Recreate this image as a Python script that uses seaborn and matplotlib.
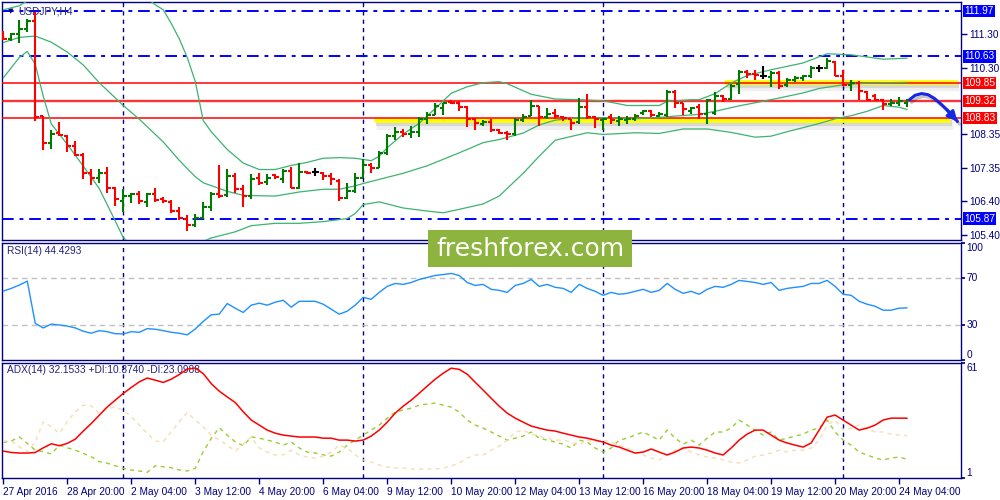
import numpy as np
import pandas as pd
import seaborn as sns
import matplotlib
matplotlib.use("Agg")
import matplotlib.pyplot as plt
import matplotlib.patheffects as pe
from matplotlib.patches import Rectangle
from matplotlib.transforms import blended_transform_factory

sns.set_theme(style="white")
plt.rcParams['font.family'] = ['Liberation Sans', 'DejaVu Sans']

# ---------------- data (USDJPY H4, 27 Apr 2016 12:00 .. 24 May 2016 08:00) -------------
opens = [111.32,111.14,111.29,111.43,111.66,108.88,108.09,108.37,108.29,108.00,
         107.75,107.22,107.05,107.22,106.78,106.39,106.53,106.58,106.37,106.58,
         106.45,106.37,106.09,105.87,105.67,105.90,106.22,106.60,106.56,107.12,
         106.73,106.53,107.07,106.94,107.14,107.02,107.26,106.78,107.24,107.24,
         107.22,107.12,106.97,106.48,106.68,107.07,107.43,107.36,107.80,108.29,
         108.41,108.34,108.41,108.78,108.92,109.12,109.28,109.25,109.15,108.80,
         108.66,108.70,108.48,108.39,108.34,108.76,108.89,109.17,108.86,108.97,
         108.86,108.78,108.70,109.15,108.86,108.76,108.86,108.73,108.76,108.80,
         108.97,109.02,108.89,108.92,109.58,109.25,109.02,109.15,108.95,108.97,
         109.46,109.38,109.83,110.16,110.12,110.07,110.03,110.14,109.80,109.93,
         110.00,110.05,110.29,110.29,110.46,110.07,109.80,109.85,109.58,109.46,
         109.34,109.22,109.25,109.27]
highs = [111.37,111.32,111.71,111.73,111.95,108.89,108.46,108.70,108.31,108.14,
         107.80,107.33,107.33,107.39,106.81,106.75,106.63,106.68,106.63,106.78,
         106.51,106.42,106.22,105.97,106.00,106.36,106.65,107.43,107.33,107.20,
         106.85,107.17,107.20,107.17,107.18,107.33,107.39,107.49,107.27,107.36,
         107.24,107.22,107.02,106.92,107.20,107.63,107.51,107.85,108.34,108.56,
         108.49,108.58,108.86,108.99,109.25,109.27,109.34,109.32,109.19,108.83,
         108.76,108.78,108.50,108.44,108.83,108.95,109.34,109.19,109.12,109.09,
         108.89,108.80,109.41,109.54,108.89,108.83,108.95,108.88,108.89,108.95,
         109.07,109.07,108.99,109.64,109.64,109.27,109.15,109.22,109.38,109.58,
         109.51,109.83,110.24,110.22,110.22,110.36,110.19,110.19,110.00,110.05,
         110.10,110.34,110.39,110.58,110.49,110.22,109.93,109.90,109.61,109.54,
         109.38,109.38,109.44,109.38]
lows = [111.10,111.07,111.04,111.34,108.73,107.88,107.90,108.29,107.82,107.70,
        107.02,106.87,106.92,106.61,106.24,106.06,106.32,106.29,106.22,106.36,
        106.32,106.03,105.83,105.51,105.63,105.85,106.09,106.48,106.51,106.61,
        106.22,106.45,106.85,106.87,107.02,106.90,106.78,106.75,107.17,107.12,
        107.00,106.85,106.39,106.43,106.61,107.07,107.20,107.36,107.75,108.19,
        108.27,108.24,108.27,108.66,108.92,108.92,109.22,109.02,108.56,108.47,
        108.58,108.41,108.34,108.17,108.29,108.70,108.89,108.58,108.80,108.78,
        108.73,108.47,108.66,108.80,108.53,108.47,108.66,108.60,108.66,108.73,
        108.92,108.86,108.86,108.86,109.12,108.92,108.95,108.78,108.66,108.92,
        109.29,109.34,109.54,110.00,109.93,109.97,109.73,109.68,109.73,109.87,
        109.90,110.00,110.16,110.26,110.05,109.77,109.61,109.36,109.31,109.31,
        109.05,109.17,109.19,109.15]
closes = [111.14,111.29,111.43,111.68,108.86,108.09,108.34,108.31,108.00,107.75,
          107.22,107.07,107.22,106.78,106.45,106.53,106.58,106.39,106.58,106.41,
          106.39,106.09,105.90,105.67,105.90,106.22,106.58,106.53,107.12,106.73,
          106.53,107.02,106.92,107.07,107.10,107.26,106.78,107.24,107.22,107.24,
          107.12,107.02,106.48,106.68,107.07,107.43,107.36,107.80,108.29,108.41,
          108.34,108.41,108.80,108.92,109.19,109.25,109.25,109.15,108.80,108.68,
          108.70,108.47,108.39,108.34,108.76,108.86,109.19,108.86,108.95,108.88,
          108.83,108.68,109.15,108.86,108.80,108.80,108.76,108.80,108.80,108.89,
          109.02,108.92,108.95,109.58,109.25,109.09,109.12,108.95,109.34,109.48,
          109.38,109.77,110.16,110.12,110.10,110.07,110.14,109.77,109.93,110.00,
          110.05,110.29,110.29,110.49,110.07,109.80,109.85,109.61,109.34,109.34,
          109.22,109.25,109.31,109.34]

# Bollinger bands (read at sample bars)
upper_idx = [0,2,4,8,12,16,19,20,21,22,23,24,25,26,28,30,32,34,36,38,40,42,44,46,47,48,
             50,52,54,56,58,60,62,63,66,69,72,75,78,82,83,86,87,89,91,93,96,100,103,106,110,113]
upper_val = [112.00,112.12,112.40,113.00,113.10,112.70,112.15,112.00,111.60,111.15,110.60,109.90,
             108.75,108.42,107.90,107.50,107.31,107.31,107.43,107.52,107.64,107.66,107.64,107.57,
             107.70,107.95,108.35,108.67,109.10,109.55,109.74,109.86,109.89,109.83,109.52,109.38,
             109.36,109.33,109.19,109.19,109.31,109.36,109.36,109.54,109.85,110.07,110.24,110.44,
             110.71,110.68,110.55,110.58]
middle_idx = [0,2,4,6,8,10,12,15,17,20,22,24,25,28,30,34,37,40,42,44,45,48,50,53,55,57,60,62,65,67,
              69,72,76,79,82,84,87,89,92,94,97,100,102,105,108,113]
middle_val = [111.04,111.19,111.23,111.05,110.76,110.38,109.86,109.19,108.79,108.12,
              107.58,107.10,106.92,106.67,106.55,106.53,106.65,106.73,106.73,106.83,
              106.90,107.08,107.20,107.42,107.61,107.80,108.10,108.19,108.38,108.62,
              108.76,108.83,108.83,108.80,108.84,108.88,108.93,109.02,109.18,109.27,
              109.41,109.56,109.69,109.80,109.85,109.87]
lower_idx = [0,2,3,4,5,6,8,10,12,14,15,17,20,23,26,29,31,34,37,40,43,44,45,47,50,53,55,57,60,62,
             65,67,69,73,75,79,82,85,88,91,94,96,98,102,104,106,108,110,112,113]
lower_val = [110.00,110.60,110.78,110.40,109.46,108.65,108.05,107.41,106.75,105.80,
             105.31,104.90,104.80,105.00,105.30,105.48,105.66,105.73,105.73,105.78,
             105.87,106.02,106.28,106.36,106.18,106.09,106.04,106.14,106.30,106.53,
             107.20,107.70,108.17,108.39,108.34,108.39,108.37,108.50,108.50,108.40,
             108.26,108.29,108.42,108.66,108.80,108.89,109.02,109.19,109.14,109.07]

rsi = [58.7,61.0,63.8,67.2,31.2,27.3,30.6,29.8,28.9,27.3,
       24.5,22.8,25.0,24.1,22.4,22.2,24.1,23.6,26.7,26.2,
       25.0,23.6,22.8,21.4,26.4,32.9,38.5,39.1,48.1,44.1,
       40.5,46.7,48.4,46.7,49.2,50.9,45.0,50.0,50.0,50.0,
       47.5,43.3,39.0,41.6,46.7,53.4,51.7,57.6,62.7,65.2,
       64.4,66.0,68.6,70.3,72.0,72.8,73.7,72.0,66.0,63.5,
       64.4,60.2,59.3,57.6,63.5,65.2,68.6,62.7,64.4,61.9,
       61.0,57.6,64.4,61.0,58.5,55.1,57.6,56.0,56.8,58.5,
       60.2,57.6,59.3,65.2,60.2,56.8,58.5,56.0,60.2,62.7,
       61.9,64.4,67.8,66.9,66.0,64.4,66.0,59.3,61.0,61.9,
       62.7,65.2,65.2,67.8,62.7,56.0,55.1,50.0,47.5,45.8,
       42.4,42.4,44.1,44.43]
adx = [15.1,14.4,14.1,14.1,14.4,16.8,18.9,17.9,19.1,21.3,
       25.5,29.4,33.7,38.0,41.5,45.0,48.1,51.0,53.0,51.9,
       50.7,52.4,54.8,57.6,58.2,55.3,50.1,46.2,43.2,40.3,
       35.5,31.2,28.6,26.0,24.4,23.4,22.9,22.4,22.4,22.4,
       21.8,21.8,20.8,20.8,20.3,20.8,22.9,26.0,30.1,34.8,
       38.4,41.5,45.1,48.8,52.4,55.5,58.1,57.5,55.0,50.8,
       46.7,42.5,38.4,34.8,32.2,30.1,28.1,27.0,26.0,25.5,
       24.4,23.4,22.4,21.8,20.8,19.8,18.2,17.2,15.6,14.1,
       14.6,16.2,14.6,13.1,14.6,16.7,17.2,16.7,15.6,14.1,
       13.1,16.7,20.8,23.9,26.0,26.0,23.4,20.8,19.3,18.2,
       17.2,19.3,26.0,32.7,33.8,31.2,28.6,26.0,27.0,28.6,
       31.2,32.2,32.2,32.15]
plus_di = [19.6,20.3,22.5,19.1,15.6,14.8,13.6,18.2,16.8,15.6,
           13.9,12.2,9.6,8.8,7.5,6.2,5.3,4.8,4.1,7.5,
           7.0,6.5,5.3,4.8,6.2,14.8,21.7,27.2,23.4,19.9,
           17.9,22.5,21.8,20.8,19.8,18.2,19.8,16.7,14.6,14.1,
           13.1,12.5,14.6,18.2,20.8,23.4,26.0,28.6,32.2,35.3,
           36.4,37.4,38.9,39.5,40.0,38.9,37.9,35.3,31.2,28.6,
           27.0,25.0,22.9,20.8,21.8,22.9,25.0,21.8,20.8,19.8,
           18.7,16.7,20.8,19.8,16.7,14.6,16.7,20.8,21.8,23.4,
           25.0,22.9,20.8,26.0,21.8,18.7,20.8,18.2,21.8,25.0,
           25.0,27.0,31.2,28.6,26.0,23.4,25.0,20.8,21.8,22.9,
           23.9,26.0,27.0,31.2,25.0,20.8,18.2,14.6,13.1,11.5,
           10.5,11.5,12.0,10.87]
minus_di = [20.3,20.3,17.3,14.8,19.9,30.3,27.7,24.3,30.3,35.5,
            38.9,38.6,34.6,37.2,38.0,36.3,32.9,28.6,24.3,20.3,
            19.9,25.1,30.3,35.1,31.2,27.7,23.4,20.8,18.2,15.1,
            18.6,22.5,16.7,14.6,13.1,13.1,15.6,13.1,12.0,11.5,
            12.5,14.6,18.2,16.7,13.1,10.5,9.4,7.9,6.8,6.3,
            6.3,5.8,5.8,5.8,5.8,6.3,7.4,8.9,11.5,13.1,
            13.1,15.6,17.7,20.8,25.0,26.0,23.9,22.9,21.8,20.8,
            20.8,19.8,18.2,20.8,19.8,20.8,19.8,18.2,16.7,14.6,
            13.1,11.5,10.5,13.1,15.6,16.7,14.6,13.1,12.0,11.5,
            10.5,9.4,8.9,10.5,12.5,13.1,14.1,15.6,14.6,15.6,
            15.6,16.7,20.8,28.6,31.2,26.0,27.0,28.6,27.0,25.0,
            25.0,23.9,23.4,23.10]

# chart objects
blue_levels = [111.97, 110.63, 105.87]
red_levels = [109.85, 109.32, 108.83]
yaxis_ticks = [111.30, 110.30, 108.35, 107.35, 106.40, 105.40]
zone_levels = [108.76, 109.88]
zone_start = [46.3, 90.1]
zone_end = [118.4, 119.2]
forecast_x = [113.3, 114.0, 114.8, 115.6, 116.4, 117.2, 118.0, 118.8, 119.3]
forecast_y = [109.36, 109.49, 109.54, 109.51, 109.40, 109.24, 109.06, 108.86, 108.72]
week_starts = [15, 45, 75, 105]
xlabel_idx = [0, 8, 16, 24, 32, 40, 48, 56, 64, 72, 80, 88, 96, 104, 112]
xlabel_txt = ["27 Apr 2016", "28 Apr 20:00", "2 May 04:00", "3 May 12:00", "4 May 20:00",
              "6 May 04:00", "9 May 12:00", "10 May 20:00", "12 May 04:00", "13 May 12:00",
              "16 May 20:00", "18 May 04:00", "19 May 12:00", "20 May 20:00", "24 May 04:00"]

# ---------------- figure ----------------
NAVY = "#000080"
FS = 7.3
fig = plt.figure(figsize=(10, 5), dpi=100)
fig.patch.set_facecolor("white")
W = 0.9587
ax = fig.add_axes([0.002, 1 - 240 / 500, W, 238 / 500])
ax2 = fig.add_axes([0.002, 1 - 360 / 500, W, 117.4 / 500], sharex=ax)
ax3 = fig.add_axes([0.002, 1 - 478.3 / 500, W, 115.7 / 500], sharex=ax)

n = len(closes)
idx = np.arange(n)
df = pd.DataFrame({"i": idx, "o": opens, "h": highs, "l": lows, "c": closes,
                   "rsi": rsi, "adx": adx, "pdi": plus_di, "mdi": minus_di})
cols = np.where(np.isclose(df.c, df.o), "black", np.where(df.c > df.o, "#007a00", "#ff0000"))

for a in (ax, ax2, ax3):
    a.set_facecolor("white")
    for s in a.spines.values():
        s.set_color(NAVY)
        s.set_linewidth(1.0)
    for w in week_starts:
        a.axvline(w, color=NAVY, lw=1.0, ls=(0, (3, 3)), zorder=1)
    a.grid(False)
ax.set_xlim(-0.16, 119.7)

# price panel
ax.set_ylim(105.24, 112.23)
for lv in blue_levels:
    ax.axhline(lv, color="#0000ff", lw=1.4, ls=(0, (6, 3, 2, 3)), zorder=2)
ax.axhline(109.32, color="#ffd4d4", lw=2.6, zorder=2)
for lv in red_levels:
    ax.axhline(lv, color="#ff0000", lw=1.1, zorder=3)

shadow = [pe.SimpleLineShadow(offset=(2, -2.5), shadow_color="black", alpha=0.06, linewidth=8),
          pe.SimpleLineShadow(offset=(1.5, -2), shadow_color="black", alpha=0.10, linewidth=4.5),
          pe.Normal()]
for lv, x0, x1 in zip(zone_levels, zone_start, zone_end):
    ax.hlines(lv, x0, x1, color="#ffff00", lw=3.4, zorder=2.5, path_effects=shadow)

for vals, ix in ((upper_val, upper_idx), (middle_val, middle_idx), (lower_val, lower_idx)):
    sns.lineplot(x=ix, y=vals, ax=ax, color="#3cb371", lw=0.9, zorder=4)

ax.vlines(df.i, df.l, df.h, colors=cols, lw=1.5, zorder=5)
ax.hlines(df.o, df.i - 0.45, df.i, colors=cols, lw=1.5, zorder=5)
ax.hlines(df.c, df.i, df.i + 0.45, colors=cols, lw=1.5, zorder=5)

sns.lineplot(x=forecast_x, y=forecast_y, ax=ax, color="#1428e6", lw=2.2, zorder=6, sort=False,
             path_effects=[pe.SimpleLineShadow(offset=(1.5, -2), alpha=0.25), pe.Normal()])
ax.annotate("", xy=(forecast_x[-1], forecast_y[-1]), xytext=(forecast_x[-3], forecast_y[-3]),
            arrowprops=dict(arrowstyle="-|>", color="#1428e6", lw=2.2, mutation_scale=14,
                            shrinkA=0, shrinkB=0), zorder=6)

ax.yaxis.tick_right()
ax.set_yticks(yaxis_ticks)
ax.set_yticklabels([f"{v:.2f}" for v in yaxis_ticks])
ax.tick_params(axis="y", right=True, left=False, length=4, width=1, color=NAVY,
               labelcolor=NAVY, labelsize=FS, pad=2, direction="out")
ax.tick_params(axis="x", bottom=False, labelbottom=False)
ax.set_xlabel("")
ax.set_ylabel("")
tr = blended_transform_factory(ax.transAxes, ax.transData)
for lv in blue_levels:
    ax.text(1.0035, lv, f"{lv:.2f}", transform=tr, color="white", fontsize=FS, va="center",
            ha="left", bbox=dict(boxstyle="square,pad=0.12", fc="#0000ff", ec="none"), clip_on=False)
for lv in red_levels:
    ax.text(1.0035, lv, f"{lv:.2f}", transform=tr, color="white", fontsize=FS, va="center",
            ha="left", bbox=dict(boxstyle="square,pad=0.12", fc="#ff0000", ec="none"), clip_on=False)
ax.text(0.0065, 0.962, "\u25bc", transform=ax.transAxes, fontsize=5, color=NAVY, va="center",
        ha="left", family="DejaVu Sans")
ax.text(0.017, 0.962, "USDJPY,H4", transform=ax.transAxes, fontsize=FS, color="#23237d",
        va="center", ha="left")

# RSI panel
ax2.set_ylim(0, 100)
ax2.axhline(70, color="#c0c0c0", lw=1.0, ls=(0, (4, 3)))
ax2.axhline(30, color="#c0c0c0", lw=1.0, ls=(0, (4, 3)))
sns.lineplot(data=df, x="i", y="rsi", ax=ax2, color="#1e90ff", lw=1.0, zorder=4)
ax2.set_xlabel("")
ax2.set_ylabel("")
ax2.tick_params(axis="x", bottom=False, labelbottom=False)
ax2.yaxis.tick_right()
ax2.set_yticks([100, 70, 30, 0])
ax2.set_yticklabels([])
ax2.tick_params(axis="y", right=True, left=False, length=3, color=NAVY)
tr2 = blended_transform_factory(ax2.transAxes, ax2.transData)
for v, va in ((100, "top"), (70, "center"), (30, "center"), (0, "bottom")):
    ax2.text(1.006, v, str(v), transform=tr2, color=NAVY, fontsize=FS, va=va, ha="left")
ax2.text(0.005, 0.925, "RSI(14) 44.4293", transform=ax2.transAxes, fontsize=FS,
         color="#23237d", va="center", ha="left")

# ADX panel
ax3.set_ylim(1, 61)
sns.lineplot(data=df, x="i", y="pdi", ax=ax3, color="#9acd32", lw=1.0, ls=(0, (3, 3)), zorder=3)
sns.lineplot(data=df, x="i", y="mdi", ax=ax3, color="#f5deb3", lw=1.0, ls=(0, (3, 3)), zorder=3)
sns.lineplot(data=df, x="i", y="adx", ax=ax3, color="#ff0000", lw=1.1, zorder=4)
ax3.set_ylabel("")
ax3.set_xlabel("")
ax3.yaxis.tick_right()
ax3.set_yticks([61, 1])
ax3.set_yticklabels([])
ax3.tick_params(axis="y", right=True, left=False, length=3, color=NAVY)
tr3 = blended_transform_factory(ax3.transAxes, ax3.transData)
ax3.text(1.006, 61, "61", transform=tr3, color=NAVY, fontsize=FS, va="top", ha="left")
ax3.text(1.006, 1, "1", transform=tr3, color=NAVY, fontsize=FS, va="bottom", ha="left")
ax3.text(0.005, 0.94, "ADX(14) 32.1533 +DI:10.8740 -DI:23.0988", transform=ax3.transAxes,
         fontsize=FS, color="#23237d", va="center", ha="left")
ax3.set_xticks(xlabel_idx)
ax3.set_xticklabels(xlabel_txt, ha="left")
ax3.tick_params(axis="x", bottom=True, length=4, width=1, color=NAVY, labelcolor=NAVY,
                labelsize=FS, pad=2, direction="out")
ax3.set_xlim(-0.16, 119.7)

# watermark
fig.patches.append(Rectangle((0.428, 1 - 267 / 500), 0.204, 37 / 500, transform=fig.transFigure,
                             fc="#8db43e", ec="none", zorder=20))
fig.text(0.530, 1 - 249 / 500, "freshforex.com", ha="center", va="center", fontsize=18,
         color="white", family="DejaVu Sans", zorder=21)

fig.savefig("out.png", dpi=100)
